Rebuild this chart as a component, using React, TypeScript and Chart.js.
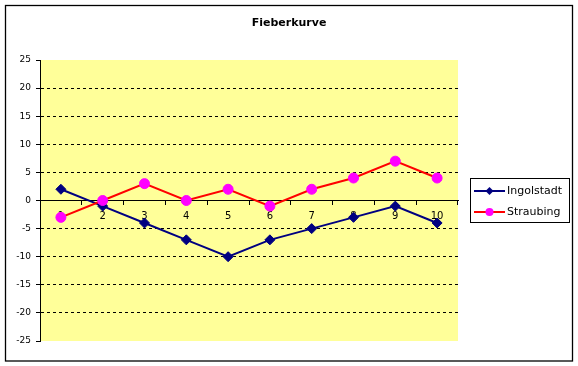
import React, { useEffect, useRef } from "react";
import { Chart, registerables } from "chart.js";

Chart.register(...registerables);

const title = "Fieberkurve";
const categories = ["1", "2", "3", "4", "5", "6", "7", "8", "9", "10"];
const ingolstadt = [2, -1, -4, -7, -10, -7, -5, -3, -1, -4];
const straubing = [-3, 0, 3, 0, 2, -1, 2, 4, 7, 4];
const seriesNames = ["Ingolstadt", "Straubing"];
const yMin = -25;
const yMax = 25;
const yStep = 5;

const FONT = "'DejaVu Sans', sans-serif";

const decorPlugin = {
  id: "decor",
  beforeDraw(chart: any) {
    const { ctx, chartArea, width, height } = chart;
    ctx.save();
    ctx.fillStyle = "#ffffff";
    ctx.fillRect(0, 0, width, height);
    ctx.fillStyle = "#FFFF99";
    ctx.fillRect(chartArea.left, chartArea.top, chartArea.right - chartArea.left, chartArea.bottom - chartArea.top);
    ctx.restore();
  },
  afterDraw(chart: any) {
    const { ctx } = chart;
    ctx.save();
    ctx.strokeStyle = "#000";
    ctx.lineWidth = 1.3;
    ctx.strokeRect(5.5, 5.5, 567, 355.5);
    ctx.fillStyle = "#000";
    ctx.font = "bold 11px " + FONT;
    ctx.textAlign = "center";
    ctx.textBaseline = "middle";
    ctx.fillText(title, 289, 23);
    ctx.lineWidth = 1;
    ctx.strokeRect(470.5, 178.5, 99, 44);
    const items = [
      { name: seriesNames[0], line: "#000080", fill: "#000080", style: "diamond", y: 191 },
      { name: seriesNames[1], line: "#FF0000", fill: "#FF00FF", style: "circle", y: 212 },
    ];
    for (const it of items) {
      ctx.strokeStyle = it.line;
      ctx.lineWidth = 2;
      ctx.beginPath();
      ctx.moveTo(474, it.y);
      ctx.lineTo(505, it.y);
      ctx.stroke();
      ctx.fillStyle = it.fill;
      ctx.beginPath();
      if (it.style === "diamond") {
        ctx.moveTo(489.5, it.y - 4);
        ctx.lineTo(493.5, it.y);
        ctx.lineTo(489.5, it.y + 4);
        ctx.lineTo(485.5, it.y);
        ctx.closePath();
      } else {
        ctx.arc(489.5, it.y, 4, 0, Math.PI * 2);
      }
      ctx.fill();
      ctx.fillStyle = "#000";
      ctx.font = "11px " + FONT;
      ctx.textAlign = "left";
      ctx.textBaseline = "middle";
      ctx.fillText(it.name, 507, it.y);
    }
    ctx.restore();
  },
};

export default function App() {
  const ref = useRef<HTMLCanvasElement | null>(null);
  useEffect(() => {
    if (!ref.current) return;
    const chart = new Chart(ref.current, {
      type: "line",
      data: {
        labels: categories,
        datasets: [
          {
            label: seriesNames[0],
            data: ingolstadt,
            borderColor: "#000080",
            backgroundColor: "#000080",
            pointBackgroundColor: "#000080",
            pointBorderColor: "#000080",
            pointStyle: "rectRot",
            pointRadius: 5,
            pointBorderWidth: 1,
            borderWidth: 2,
            tension: 0,
            order: 2,
          },
          {
            label: seriesNames[1],
            data: straubing,
            borderColor: "#FF0000",
            backgroundColor: "#FF00FF",
            pointBackgroundColor: "#FF00FF",
            pointBorderColor: "#FF00FF",
            pointStyle: "circle",
            pointRadius: 5,
            pointBorderWidth: 1,
            borderWidth: 2,
            tension: 0,
            order: 1,
          },
        ],
      },
      options: {
        animation: false,
        responsive: false,
        maintainAspectRatio: false,
        layout: { padding: { left: 5, right: 120, top: 60, bottom: 25 } },
        plugins: {
          legend: { display: false },
          title: { display: false },
          tooltip: { enabled: false },
        },
        scales: {
          x: {
            type: "category",
            position: { y: 0 } as any,
            offset: true,
            grid: {
              offset: true,
              drawOnChartArea: false,
              drawTicks: true,
              tickLength: 4,
              tickColor: "#000",
            },
            border: { display: true, color: "#000", width: 1 },
            ticks: {
              color: "#000",
              font: { family: FONT, size: 10 },
              padding: 6,
              maxRotation: 0,
              autoSkip: false,
            },
          },
          y: {
            min: yMin,
            max: yMax,
            afterFit(scale: any) {
              scale.width = 35;
            },
            grid: {
              color: (c: any) => {
                const v = c.tick ? c.tick.value : 0;
                return v === yMin || v === yMax || v === 0 ? "rgba(0,0,0,0)" : "#000";
              },
              tickColor: "#000",
              tickLength: 4,
              drawTicks: true,
              lineWidth: 1,
            },
            border: { display: true, color: "#000", width: 1, dash: [3, 3] },
            ticks: {
              stepSize: yStep,
              color: "#000",
              font: { family: FONT, size: 9 },
              padding: 5,
            },
          },
        },
      },
      plugins: [decorPlugin],
    });
    return () => chart.destroy();
  }, []);
  return (
    <div style={{ position: "absolute", left: 0, top: 0, width: 578, height: 366 }}>
      <canvas ref={ref} width={578} height={366} style={{ width: 578, height: 366 }} />
    </div>
  );
}
